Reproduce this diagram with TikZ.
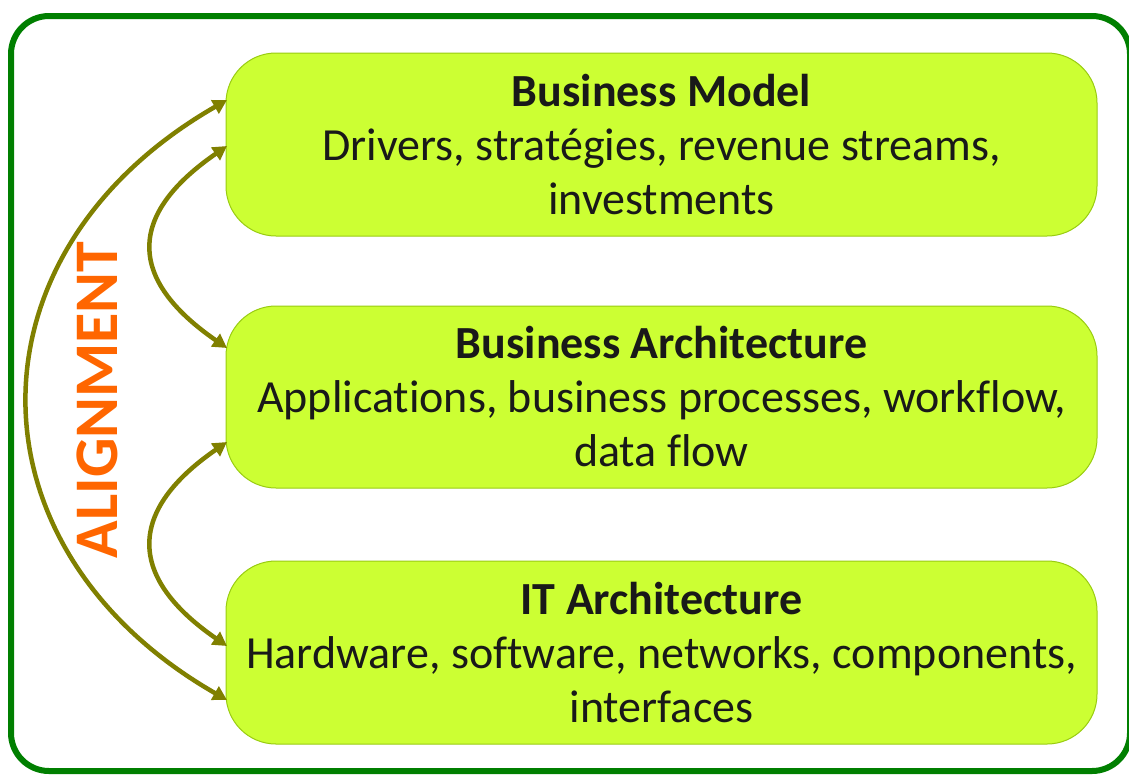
\documentclass[tikz,border=0pt]{standalone}
\usepackage{fontspec}
\setmainfont{Carlito}[Ligatures={NoCommon}]
\usetikzlibrary{arrows.meta}
\definecolor{boxfill}{HTML}{CCFF33}
\definecolor{boxline}{HTML}{99CC11}
\definecolor{arrowc}{HTML}{808000}
\definecolor{framec}{HTML}{007F00}
\definecolor{alignc}{HTML}{FF6600}
\tikzset{
  layerbox/.style={draw=boxline, line width=1pt, fill=boxfill, rounded corners=50pt},
  layertext/.style={align=center, font=\fontsize{46}{54}\selectfont, text=black!90},
  linkarrow/.style={draw=arrowc, line width=4.5pt, {Triangle[length=14pt,width=15pt]}-{Triangle[length=14pt,width=15pt]}},
}
\begin{document}
\begin{tikzpicture}[x=1pt,y=-1pt]
\useasboundingbox (0,0) rectangle (1129,774);
% outer frame
\draw[framec, line width=6pt, rounded corners=38pt] (11,16) rectangle (1130,771);
% boxes
\draw[layerbox] (226,53) rectangle (1097,236);
\draw[layerbox] (226,306) rectangle (1097,488);
\draw[layerbox] (226,561) rectangle (1097,744);
\node[layertext] (bm) at (661.5,144.5) {\textbf{Business Model}\\Drivers, stratégies, revenue streams,\\investments};
\node[layertext] (ba) at (661.5,397) {\textbf{Business Architecture}\\Applications, business processes, workflow,\\data flow};
\node[layertext] (it) at (661.5,652.5) {\textbf{IT Architecture}\\Hardware, software, networks, components,\\interfaces};
\coordinate (bmA) at (227,100);
\coordinate (bmB) at (227,146);
\coordinate (baA) at (227,348);
\coordinate (baB) at (227,442);
\coordinate (itA) at (227,646);
\coordinate (itB) at (227,700);
% arrows
\draw[linkarrow] (bmA) .. controls (-38,252) and (-38,548) .. (itB);
\draw[linkarrow] (bmB) .. controls (127,215) and (127,279) .. (baA);
\draw[linkarrow] (baB) .. controls (127,511) and (127,577) .. (itA);
% label
\node[rotate=90, text=alignc, font=\fontsize{62}{72}\selectfont\bfseries] (al) at (97,400) {ALIGNMENT};
\end{tikzpicture}
\end{document}
